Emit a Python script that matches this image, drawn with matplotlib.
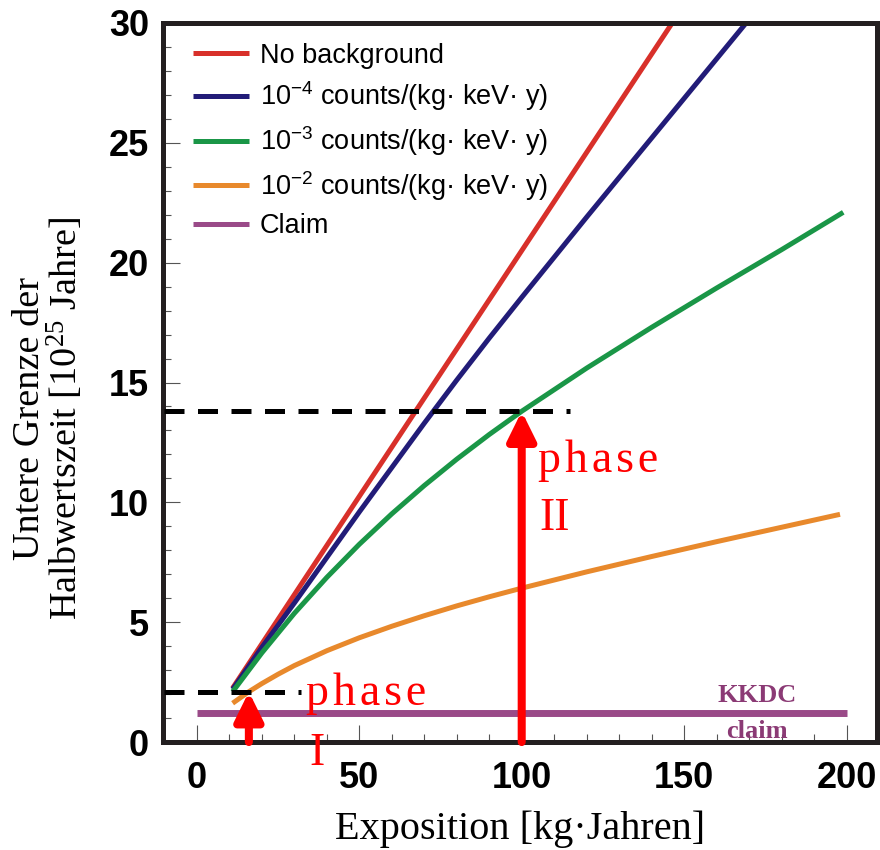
import matplotlib
matplotlib.use("Agg")
import matplotlib.pyplot as plt
from matplotlib.ticker import MultipleLocator

plt.rcParams['mathtext.default'] = 'regular'

# curves (exposure in kg*years, limit in 1e25 years)
x_nobg = [11, 50, 100, 150]
y_nobg = [2.25, 10.25, 20.5, 30.75]

x_b4 = [11, 20, 30, 40, 50, 60, 70, 80, 90, 100, 120, 140, 160, 180]
y_b4 = [2.2, 3.95, 5.8, 7.7, 9.6, 11.45, 13.3, 15.1, 16.85, 18.55, 21.9, 25.2, 28.5, 31.8]

x_b3 = [11, 20, 30, 40, 50, 60, 70, 80, 90, 100, 120, 140, 160, 180, 199]
y_b3 = [2.1, 3.72, 5.37, 6.87, 8.25, 9.52, 10.7, 11.8, 12.83, 13.8, 15.6, 17.3, 18.94, 20.54, 22.1]

x_b2 = [11, 16, 20, 25, 30, 40, 50, 60, 70, 80, 90, 100, 120, 140, 160, 180, 198]
y_b2 = [1.62, 2.1, 2.44, 2.83, 3.19, 3.81, 4.35, 4.83, 5.27, 5.68, 6.06, 6.42, 7.1, 7.74, 8.36, 8.96, 9.5]

x_claim = [0, 200]
y_claim = [1.22, 1.22]

labels = ["No background",
          "10$^{-4}$ counts/(kg· keV· y)",
          "10$^{-3}$ counts/(kg· keV· y)",
          "10$^{-2}$ counts/(kg· keV· y)",
          "Claim"]
colors = ["#d8302a", "#221c78", "#1a9647", "#e8892c", "#9a4a88"]

# phase markers: exposure, reached limit, dashed line end
phase_x = [16, 100]
phase_y = [2.1, 13.8]
dash_end = [32, 115]

fig = plt.figure(figsize=(8.8, 8.5), dpi=100)
ax = fig.add_axes([0.185, 0.127, 0.812, 0.846])

lw = 3.6
ax.plot(x_nobg, y_nobg, color=colors[0], lw=lw, label=labels[0], solid_capstyle='butt')
ax.plot(x_b4, y_b4, color=colors[1], lw=lw, label=labels[1], solid_capstyle='butt')
ax.plot(x_b3, y_b3, color=colors[2], lw=lw, label=labels[2], solid_capstyle='butt')
ax.plot(x_b2, y_b2, color=colors[3], lw=lw, label=labels[3], solid_capstyle='butt')
ax.plot(x_claim, y_claim, color=colors[4], lw=5, label=labels[4], solid_capstyle='butt')

for px, py, xe in zip(phase_x, phase_y, dash_end):
    ax.plot([-10, xe], [py, py], color='black', lw=3.6, dashes=(4, 2.7), zorder=4)
    ax.annotate('', xy=(px, py), xytext=(px, 0),
                arrowprops=dict(arrowstyle='-|>,head_width=0.42,head_length=0.85',
                                color='red', lw=5.8, mutation_scale=20,
                                shrinkA=0, shrinkB=0), zorder=5)

serif = 'Liberation Serif'
word = "p\u200ah\u200aa\u200as\u200ae"
ax.text(33.5, 1.55, word, color='red', fontsize=33, family=serif, clip_on=False)
ax.text(34.5, -0.96, "I", color='red', fontsize=33, family=serif, clip_on=False)
ax.text(105, 11.28, word, color='red', fontsize=33, family=serif)
ax.text(105.5, 8.86, "II", color='red', fontsize=33, family=serif)

ax.text(172.4, 1.96, "KKDC", color='#8b3a75', fontsize=19, family=serif,
        weight='bold', ha='center', va='center')
ax.text(172.4, 0.42, "claim", color='#8b3a75', fontsize=19, family=serif,
        weight='bold', ha='center', va='center')

ax.set_xlim(-10.5, 209.5)
ax.set_ylim(0, 30)
ax.xaxis.set_major_locator(MultipleLocator(50))
ax.xaxis.set_minor_locator(MultipleLocator(10))
ax.yaxis.set_major_locator(MultipleLocator(5))
ax.yaxis.set_minor_locator(MultipleLocator(1))
ax.tick_params(which='both', direction='in', color='#555555', width=0.8)
ax.tick_params(which='major', length=12)
ax.tick_params(which='minor', length=6)
ax.tick_params(axis='x', pad=14)
ax.tick_params(axis='y', pad=10)
for lab in ax.get_xticklabels() + ax.get_yticklabels():
    lab.set_family('Liberation Sans')
    lab.set_weight('bold')
    lab.set_fontsize(26)
for sp in ax.spines.values():
    sp.set_linewidth(3.6)
    sp.set_color('#231f20')

ax.set_xlabel("Exposition [kg·Jahren]", family=serif, fontsize=29)
ax.xaxis.set_label_coords(0.5, -0.095)
fig.text(49 / 880, 1 - 418 / 850,
         "Untere Grenze der\nHalbwertszeit [10$^{25}$ Jahre]",
         rotation=90, ha='center', va='center', multialignment='center',
         family=serif, fontsize=27.5, linespacing=0.95)

leg = ax.legend(loc='upper left', bbox_to_anchor=(0.035, 0.98), frameon=False,
                prop={'family': 'Liberation Sans', 'size': 19.5},
                handlelength=2.05, handletextpad=0.4, labelspacing=0.4,
                borderaxespad=0, borderpad=0.2)
for line in leg.get_lines():
    line.set_linewidth(3.6)

fig.savefig("out.png", dpi=100)
